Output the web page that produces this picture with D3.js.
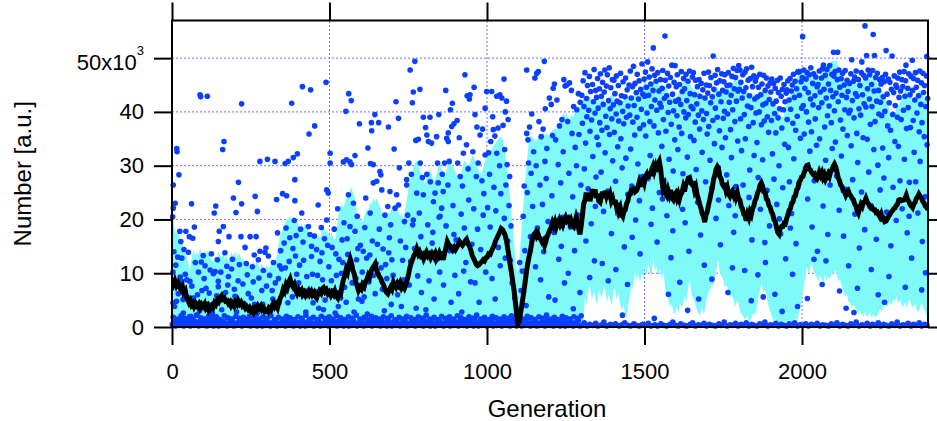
<!DOCTYPE html>
<html>
<head>
<meta charset="utf-8">
<script src="https://cdn.jsdelivr.net/npm/d3@7"></script>
<style>
  html, body { margin: 0; padding: 0; background: #fff; }
  svg { display: block; font-family: "Liberation Sans", Arial, sans-serif; }
</style>
</head>
<body>
<div id="chart"></div>
<script>
// all values in thousands (axis reads "x10^3")
const xTicks = [0, 500, 1000, 1500, 2000];
const yTicks = [0, 10, 20, 30, 40, 50];

// running mean (black trace)
const meanLine = [[0,8.8],[5,8.0],[9,8.6],[14,7.7],[19,8.2],[24,7.4],[28,7.0],[33,7.5],[37,6.4],[42,6.8],[46,5.6],[50,5.0],[54,4.5],[58,4.9],[62,4.1],[66,4.4],[70,3.8],[75,4.4],[80,3.9],[85,4.3],[89,3.6],[94,4.2],[99,3.8],
  [104,4.3],[108,3.5],[113,3.9],[117,3.1],[121,3.4],[126,3.9],[130,3.6],[135,4.5],[139,4.2],[144,5.0],[148,4.7],[153,5.5],[157,5.8],[161,5.2],[166,5.4],[170,4.8],[175,4.9],[179,4.4],[184,4.7],[188,4.0],[192,4.4],[197,3.9],
  [201,4.6],[206,4.2],[210,4.9],[215,4.3],[219,4.6],[224,3.9],[228,4.1],[233,3.5],[237,3.8],[242,3.3],[246,3.6],[251,3.0],[255,3.3],[259,2.8],[264,3.5],[268,3.2],[273,3.9],[277,3.5],[282,3.9],[286,3.2],[291,3.5],[295,2.9],[299,3.1],
  [304,2.8],[308,3.5],[313,3.2],[317,3.9],[322,4.4],[326,3.8],[330,4.2],[335,3.6],[339,4.6],[344,5.4],[348,5.9],[353,7.0],[357,6.6],[362,7.8],[366,7.3],[371,8.4],[375,8.9],[379,8.0],[384,7.5],[388,7.9],[393,6.7],[397,6.2],
  [402,6.9],[406,6.4],[411,6.8],[415,6.0],[420,6.4],[424,5.9],[428,6.3],[433,6.7],[437,6.1],[442,6.6],[446,6.0],[451,6.4],[455,5.7],[459,5.4],[464,6.2],[468,6.7],[473,6.3],[477,7.1],[481,7.3],[486,6.6],[490,6.9],[495,6.2],[499,6.5],
  [504,5.9],[508,6.4],[513,6.0],[517,6.6],[521,5.8],[526,5.4],[530,6.2],[535,6.0],[539,7.4],[544,8.8],[548,9.4],[553,10.7],[557,10.2],[561,11.6],[566,12.6],[570,11.8],[574,10.6],[579,9.8],[583,8.4],[588,7.6],[592,6.8],[597,7.4],
  [601,7.1],[605,7.9],[610,7.5],[614,8.4],[619,8.9],[623,9.6],[627,9.2],[632,10.4],[636,10.9],[641,11.3],[645,11.7],[649,10.6],[654,10.0],[658,9.4],[663,9.0],[667,8.3],[672,7.8],[676,7.0],[680,6.5],[685,6.2],[689,6.8],[694,7.4],[698,7.0],
  [703,8.3],[707,7.8],[711,7.4],[716,8.1],[720,7.7],[724,8.2],[729,7.3],[733,7.7],[738,7.2],[742,7.8],[746,8.6],[751,9.8],[755,11.0],[760,12.0],[764,12.6],[768,13.3],[773,13.8],[777,14.5],[782,13.6],[786,14.0],[791,13.2],[795,13.4],[799,12.7],
  [804,13.4],[808,13.9],[813,13.2],[817,13.5],[821,12.9],[826,13.6],[830,13.2],[835,13.7],[839,12.7],[843,13.2],[848,13.8],[852,13.1],[857,13.4],[861,12.5],[865,13.6],[870,14.8],[874,15.9],[878,15.4],[883,15.1],[887,14.6],[891,14.3],[896,14.8],[900,14.4],
  [905,14.9],[909,15.4],[913,15.9],[918,15.5],[922,15.2],[927,15.6],[931,16.0],[935,16.3],[940,15.5],[944,15.1],[949,14.2],[953,13.3],[957,12.8],[962,12.2],[966,11.6],[970,11.4],[975,11.6],[979,11.9],[983,12.1],[988,12.5],[992,12.3],[997,12.9],
  [1001,13.0],[1005,13.6],[1010,13.5],[1014,14.1],[1018,14.6],[1023,15.2],[1027,16.0],[1032,16.6],[1036,17.1],[1040,17.6],[1045,18.3],[1049,18.1],[1054,17.6],[1058,17.0],[1062,16.0],[1066,14.5],[1070,13.0],[1074,11.4],[1078,10.0],[1082,8.3],[1086,6.8],[1090,4.6],[1094,2.6],[1098,0.6],
  [1102,1.0],[1106,2.4],[1110,3.8],[1114,5.4],[1118,7.0],[1122,8.8],[1126,10.6],[1130,12.0],[1134,13.2],[1138,14.2],[1142,15.7],[1146,16.8],[1150,17.3],[1154,17.6],[1158,16.9],[1162,17.3],[1166,16.6],[1170,16.4],[1175,15.8],[1179,16.1],[1183,15.2],[1187,15.9],[1191,16.8],[1195,17.4],[1199,18.0],
  [1204,18.6],[1208,19.4],[1212,18.8],[1216,19.5],[1220,18.6],[1224,19.3],[1229,19.9],[1233,19.1],[1237,19.6],[1241,19.0],[1245,19.7],[1250,20.4],[1254,19.8],[1258,20.1],[1262,19.4],[1266,19.9],[1271,18.8],[1275,18.6],[1279,19.5],[1283,20.4],[1287,19.6],[1291,18.3],[1295,17.2],[1299,18.8],
  [1303,20.8],[1307,22.9],[1311,23.6],[1315,25.0],[1319,23.7],[1323,24.9],[1327,23.4],[1331,24.6],[1335,25.6],[1339,24.5],[1343,25.6],[1347,24.0],[1351,24.8],[1355,23.4],[1359,23.2],[1363,24.3],[1367,25.1],[1371,24.0],[1375,25.3],[1379,24.4],[1383,25.2],[1387,23.9],[1391,24.6],[1395,23.4],[1399,23.9],
  [1403,22.8],[1407,23.6],[1411,22.4],[1415,23.1],[1419,21.6],[1423,22.2],[1427,21.0],[1431,20.6],[1435,21.6],[1439,21.8],[1443,22.9],[1447,23.4],[1451,24.6],[1455,24.7],[1459,25.8],[1463,25.0],[1467,26.1],[1471,25.2],[1475,25.4],[1479,26.0],[1483,26.9],[1487,26.1],[1491,27.2],[1495,27.5],[1499,26.8],
  [1503,28.0],[1507,28.4],[1511,27.6],[1515,28.9],[1519,28.1],[1523,29.3],[1527,29.9],[1531,29.0],[1535,29.8],[1539,28.9],[1543,30.3],[1547,30.8],[1551,29.5],[1555,27.2],[1559,25.6],[1563,26.2],[1567,24.8],[1571,24.4],[1575,25.4],[1579,24.6],[1583,25.5],[1587,24.0],[1591,23.7],[1595,24.6],[1599,24.9],
  [1603,24.0],[1607,24.7],[1611,23.8],[1615,24.7],[1619,25.0],[1623,26.0],[1627,25.2],[1631,26.5],[1635,26.9],[1639,27.7],[1643,27.8],[1647,26.8],[1651,26.5],[1655,26.6],[1659,25.4],[1663,26.0],[1667,24.6],[1671,23.8],[1675,22.9],[1679,22.1],[1683,21.1],[1687,20.6],[1691,19.5],[1695,20.8],[1699,21.4],
  [1703,22.6],[1707,23.6],[1711,24.8],[1715,25.8],[1719,27.4],[1723,28.2],[1727,29.3],[1731,29.8],[1735,29.4],[1739,28.0],[1743,27.6],[1747,26.6],[1751,26.2],[1755,26.3],[1759,25.3],[1763,25.9],[1767,24.7],[1771,24.3],[1775,25.0],[1779,25.3],[1783,24.6],[1787,25.4],[1791,24.2],[1795,24.9],[1799,23.8],
  [1803,23.6],[1807,22.4],[1811,22.0],[1815,21.0],[1819,20.7],[1823,19.8],[1827,20.9],[1831,20.3],[1835,21.4],[1839,20.9],[1843,22.0],[1847,22.5],[1851,23.5],[1855,24.0],[1859,25.0],[1863,25.4],[1867,26.4],[1871,26.8],[1875,26.2],[1879,25.1],[1883,25.0],[1887,23.8],[1891,23.6],[1895,22.6],[1899,22.3],
  [1903,21.4],[1907,21.0],[1911,20.0],[1915,19.6],[1919,18.5],[1923,17.6],[1927,17.3],[1931,18.4],[1935,18.7],[1939,18.7],[1943,19.3],[1947,19.2],[1951,20.1],[1955,20.8],[1959,21.7],[1963,22.0],[1967,23.0],[1971,23.2],[1975,24.2],[1979,24.4],[1983,25.5],[1987,25.8],[1991,27.0],[1995,27.3],[1999,27.9],
  [2003,28.0],[2007,28.8],[2011,29.2],[2015,30.0],[2019,30.1],[2023,29.4],[2027,29.2],[2031,28.7],[2035,28.4],[2039,28.5],[2043,27.7],[2047,27.5],[2051,28.1],[2055,28.8],[2059,28.2],[2063,28.7],[2067,27.8],[2071,28.3],[2075,27.5],[2079,28.0],[2083,28.5],[2087,28.0],[2091,28.9],[2095,29.2],[2099,29.9],
  [2103,30.3],[2107,29.8],[2111,28.8],[2115,27.7],[2119,27.2],[2123,26.4],[2127,26.1],[2131,25.3],[2135,25.1],[2139,24.5],[2143,25.0],[2147,25.3],[2151,24.7],[2155,24.4],[2159,23.9],[2163,23.7],[2167,22.9],[2171,22.5],[2175,21.7],[2179,21.2],[2183,22.1],[2187,22.8],[2191,22.4],[2195,23.2],[2199,23.3],
  [2203,23.9],[2207,23.3],[2211,22.9],[2215,22.4],[2219,22.1],[2223,22.2],[2227,21.8],[2231,21.8],[2235,21.3],[2239,21.4],[2243,20.9],[2247,20.5],[2251,21.0],[2255,20.1],[2259,20.2],[2263,19.6],[2267,19.7],[2271,20.1],[2275,20.6],[2279,20.9],[2283,21.4],[2287,21.6],[2291,22.0],[2295,22.1],[2299,22.6],
  [2303,22.8],[2307,23.6],[2311,23.7],[2315,23.5],[2319,23.6],[2323,23.6],[2327,23.9],[2331,24.5],[2335,23.7],[2339,23.4],[2343,22.8],[2347,22.5],[2351,22.2],[2355,22.9],[2359,23.2],[2363,23.9],[2367,24.2],[2371,24.7],[2375,24.3],[2379,24.0],[2383,23.4],[2387,23.1],[2391,22.5],[2395,22.3],[2400,21.8]];

// spread band, upper edge
const bandTop = [[0,20.9],[4,20.0],[8,18.4],[12,17.2],[16,18.1],[20,18.0],[25,16.4],[30,15.6],[36,15.0],[41,13.6],[47,13.0],[52,11.8],[57,10.6],[62,12.8],[68,14.4],[73,13.2],[78,14.0],[84,13.4],[89,14.6],[94,13.8],[99,13.1],[104,14.2],[110,13.6],[115,14.4],[120,13.0],[126,12.4],[131,12.0],[136,13.2],[142,12.6],[147,14.1],[152,13.4],[157,12.8],[163,13.8],[168,12.6],[173,13.4],[178,12.2],[184,13.1],[189,14.0],[195,13.0],[200,14.1],[205,12.8],[211,13.6],[216,13.4],[221,12.2],[226,12.8],[232,11.8],[237,11.3],[242,12.0],[248,10.6],[253,11.6],[258,12.2],[264,11.4],[269,12.5],[274,11.6],[280,10.8],[285,11.8],[290,11.0],[296,10.4],[301,11.6],[306,10.8],[311,11.3],[316,12.2],[322,11.0],[327,12.4],[332,13.1],[337,14.8],[343,16.8],[348,17.6],[353,18.4],[358,19.2],[364,19.9],[369,20.2],[375,20.6],[380,19.6],[385,20.8],[390,19.8],[396,20.3],[401,19.0],[406,18.1],[411,19.4],[416,18.4],[422,19.2],[427,19.0],[432,18.0],[438,17.2],[443,16.8],[449,16.5],[454,17.4],[459,16.2],[465,17.0],[470,16.5],[475,17.8],[480,19.0],[486,17.6],[491,18.2],[496,17.4],[502,16.8],[507,17.6],[512,16.4],[518,16.2],[523,18.0],[528,20.6],[533,22.2],[539,23.0],[544,22.0],[549,23.2],[554,23.9],[559,24.6],[565,25.4],[570,26.1],[575,24.8],[581,23.9],[586,21.6],[591,19.9],[596,20.4],[602,19.6],[607,19.9],[612,21.0],[618,22.0],[623,21.4],[628,23.3],[633,22.6],[639,24.0],[644,23.2],[650,23.9],[655,23.0],[660,22.6],[666,21.0],[671,19.9],[676,20.6],[682,20.2],[687,21.4],[692,20.9],[697,22.0],[703,21.6],[708,22.8],[713,22.6],[718,21.4],[724,20.6],[729,21.2],[734,19.9],[740,21.8],[745,23.6],[750,25.5],[755,27.0],[760,28.2],[766,29.5],[771,30.4],[776,31.0],[781,30.2],[787,29.0],[792,28.5],[797,27.4],[803,26.6],[808,27.8],[813,28.6],[818,29.5],[824,28.4],[829,27.6],[834,27.0],[840,28.2],[845,29.6],[850,30.5],[856,29.4],[861,28.6],[866,28.0],[872,29.2],[877,30.6],[882,31.5],[888,30.4],[893,29.8],[898,29.0],[904,28.2],[909,28.0],[914,27.5],[920,29.0],[925,30.2],[930,31.0],[935,30.4],[941,29.5],[946,30.6],[951,31.4],[956,32.0],[962,31.0],[967,30.0],[972,29.4],[977,28.8],[983,28.5],[988,29.6],[993,30.8],[998,31.5],[1004,32.2],[1009,32.8],[1014,33.0],[1020,33.6],[1025,34.0],[1030,34.5],[1036,34.8],[1041,35.2],[1046,35.4],[1051,34.6],[1056,33.0],[1061,31.0],[1066,28.0],[1071,25.4],[1076,22.0],[1081,19.0],[1086,15.6],[1091,12.4],[1097,9.4],[1102,12.0],[1107,16.0],[1112,20.0],[1117,24.0],[1122,28.0],[1127,31.0],[1132,34.0],[1137,35.7],[1143,35.2],[1148,35.0],[1153,34.6],[1158,34.8],[1164,35.6],[1169,35.2],[1174,35.8],[1180,36.1],[1185,35.6],[1190,36.1],[1196,35.5],[1201,36.2],[1206,36.4],[1211,36.7],[1217,37.0],[1222,36.7],[1227,37.5],[1232,38.4],[1238,39.0],[1243,39.8],[1248,39.2],[1253,39.8],[1259,38.6],[1264,38.8],[1269,39.4],[1274,39.1],[1280,40.2],[1285,40.0],[1290,40.6],[1295,41.0],[1301,41.8],[1306,42.6],[1311,42.4],[1316,42.9],[1322,42.6],[1327,42.9],[1332,42.0],[1338,41.4],[1343,42.2],[1348,41.6],[1353,42.4],[1359,41.8],[1364,42.6],[1369,42.2],[1375,41.4],[1380,42.6],[1385,42.0],[1390,42.8],[1396,43.2],[1401,42.9],[1406,42.0],[1412,42.6],[1417,41.8],[1422,42.4],[1427,41.6],[1433,42.2],[1438,42.8],[1443,42.2],[1448,43.0],[1454,42.4],[1459,43.2],[1464,42.6],[1470,43.6],[1475,43.2],[1480,44.0],[1485,44.8],[1491,44.2],[1496,45.0],[1501,45.6],[1507,45.4],[1512,44.6],[1517,45.2],[1522,44.4],[1528,45.6],[1533,45.0],[1538,46.0],[1543,45.2],[1549,44.8],[1554,45.4],[1559,44.2],[1565,45.0],[1570,44.4],[1575,43.6],[1580,43.0],[1586,42.4],[1591,43.2],[1596,42.6],[1602,42.2],[1607,43.4],[1612,44.0],[1617,44.8],[1623,45.6],[1628,46.2],[1634,46.6],[1639,45.8],[1644,45.0],[1649,44.6],[1655,44.0],[1660,44.4],[1665,43.6],[1671,43.8],[1676,43.5],[1681,42.8],[1686,43.2],[1692,42.6],[1697,42.8],[1702,42.4],[1708,42.2],[1713,43.0],[1718,43.6],[1723,44.2],[1729,44.7],[1734,44.2],[1739,43.6],[1745,44.4],[1750,43.8],[1755,44.6],[1761,44.1],[1766,44.8],[1771,45.4],[1776,45.0],[1782,45.6],[1787,46.2],[1792,45.6],[1797,46.0],[1803,46.0],[1808,45.2],[1813,44.6],[1818,44.0],[1824,43.5],[1829,43.8],[1834,43.2],[1840,43.6],[1845,43.0],[1850,43.4],[1856,42.9],[1861,43.4],[1866,44.0],[1872,43.6],[1877,44.4],[1882,43.8],[1888,44.1],[1893,43.4],[1898,42.8],[1904,42.6],[1909,42.2],[1914,41.6],[1920,40.8],[1925,40.0],[1930,39.4],[1935,39.0],[1941,39.1],[1946,40.2],[1951,41.4],[1956,42.2],[1962,43.0],[1967,43.8],[1972,44.7],[1977,45.4],[1983,46.2],[1988,46.8],[1993,47.4],[1998,47.6],[2004,47.8],[2009,47.2],[2014,47.6],[2020,47.0],[2025,47.2],[2030,46.6],[2036,47.0],[2041,46.4],[2046,46.8],[2052,46.2],[2057,46.6],[2062,47.4],[2068,48.0],[2073,48.4],[2078,48.8],[2084,48.6],[2089,49.1],[2094,49.4],[2100,49.6],[2105,49.2],[2110,49.7],[2115,48.6],[2121,47.8],[2126,47.0],[2131,46.6],[2136,46.0],[2142,45.6],[2147,45.0],[2152,45.6],[2158,45.0],[2163,45.4],[2168,45.8],[2174,45.2],[2179,45.8],[2184,46.2],[2189,45.6],[2195,46.0],[2200,46.4],[2205,45.8],[2211,46.4],[2216,46.0],[2221,46.8],[2226,46.6],[2232,46.0],[2237,45.4],[2242,45.0],[2248,44.7],[2253,44.0],[2258,43.4],[2264,42.8],[2269,42.2],[2274,41.0],[2280,40.0],[2285,39.2],[2290,38.5],[2295,39.8],[2301,40.8],[2306,41.2],[2311,41.6],[2316,42.4],[2322,43.4],[2327,44.2],[2332,44.7],[2337,44.0],[2343,43.2],[2348,42.6],[2353,42.2],[2358,42.8],[2364,43.4],[2369,43.8],[2375,44.1],[2380,43.6],[2385,43.0],[2390,42.6],[2396,42.2],[2400,42.4]];

// spread band, lower edge
const bandBottom = [[0,0],[1300,0],[1306,1.5],[1311,5.7],[1316,4.2],[1322,7.0],[1327,7.5],[1333,5.0],[1338,6.6],[1343,5.7],[1350,4.0],[1355,6.8],[1359,6.3],[1365,5.2],[1370,7.4],[1375,6.9],[1381,4.6],[1386,6.0],[1390,5.4],[1396,3.8],[1401,6.6],[1406,7.2],[1412,5.0],[1417,6.2],[1422,4.5],[1428,3.0],[1433,4.2],[1438,2.6],[1444,1.8],[1449,4.4],[1454,5.7],[1459,8.0],[1464,7.0],[1470,10.6],[1475,8.6],[1480,9.8],[1486,8.2],[1491,10.2],[1496,9.0],[1502,11.3],[1507,9.6],[1512,11.8],[1517,10.6],[1522,9.2],[1528,13.1],[1533,10.4],[1538,11.2],[1544,9.4],[1549,10.8],[1555,8.8],[1560,10.6],[1565,7.6],[1570,6.0],[1576,5.1],[1581,3.6],[1586,4.4],[1591,3.2],[1596,2.2],[1602,3.6],[1608,2.8],[1613,4.5],[1619,3.4],[1624,5.0],[1629,5.7],[1634,4.6],[1639,7.4],[1644,8.8],[1650,6.0],[1655,5.4],[1660,4.5],[1666,3.2],[1671,2.6],[1676,2.0],[1682,3.8],[1687,2.4],[1692,3.2],[1697,5.0],[1703,6.4],[1708,6.9],[1713,8.0],[1718,7.6],[1724,9.4],[1729,10.8],[1734,12.5],[1739,10.2],[1744,9.6],[1750,8.8],[1755,7.4],[1760,7.8],[1766,6.9],[1771,5.4],[1776,6.0],[1782,5.1],[1787,3.6],[1792,4.8],[1798,4.5],[1803,3.0],[1808,2.4],[1814,2.0],[1820,1.2],[1826,2.2],[1830,1.4],[1835,1.0],[1840,1.8],[1845,2.6],[1850,2.2],[1856,3.2],[1861,5.6],[1866,6.8],[1872,8.2],[1877,6.4],[1882,7.0],[1888,5.7],[1893,4.0],[1898,3.0],[1904,2.0],[1910,1.0],[1916,1.6],[1922,0.6],[1930,0.7],[1938,0.4],[1946,1.0],[1954,0.6],[1962,1.3],[1970,0.8],[1978,1.6],[1984,1.2],[1988,2.0],[1994,3.6],[1999,5.2],[2004,6.9],[2009,8.8],[2015,11.3],[2020,10.0],[2026,11.0],[2031,11.9],[2036,10.6],[2041,10.0],[2046,9.4],[2052,8.4],[2057,9.6],[2062,9.0],[2068,8.2],[2073,9.8],[2078,8.6],[2084,9.4],[2089,8.8],[2094,10.4],[2100,9.4],[2105,10.6],[2110,10.0],[2115,8.4],[2120,9.0],[2126,7.6],[2131,6.9],[2136,5.6],[2142,6.2],[2147,4.8],[2152,4.5],[2158,3.6],[2163,4.2],[2168,3.8],[2173,3.2],[2179,2.4],[2184,3.0],[2190,2.4],[2195,2.0],[2200,2.8],[2206,1.8],[2211,2.2],[2216,2.6],[2222,1.6],[2227,2.4],[2232,1.8],[2237,2.0],[2243,2.6],[2248,3.4],[2253,2.8],[2258,3.8],[2264,4.6],[2269,3.6],[2274,4.2],[2279,4.8],[2284,4.0],[2290,5.2],[2295,4.8],[2300,5.7],[2305,4.4],[2311,5.0],[2316,4.2],[2321,3.8],[2327,4.6],[2332,3.4],[2337,4.8],[2343,5.1],[2348,4.0],[2353,3.6],[2359,4.4],[2364,3.2],[2369,2.8],[2375,3.8],[2380,4.5],[2385,3.6],[2391,2.8],[2396,2.0],[2400,1.6]];

// individual samples sitting on the floor
const floorDots = [[1,0.5],[6,1.1],[11,0.2],[16,0.8],[22,0.3],[27,1.3],[32,0.6],[37,0.2],[43,0.9],[48,0.4],[53,1.2],[58,0.2],[64,0.7],[69,0.3],[74,1.0],[80,0.5],[85,0.2],[90,1.2],[95,0.6],[101,0.3],[106,0.9],[111,0.2],[117,1.1],[122,0.4],[127,0.8],[132,0.2],[138,1.3],[143,0.5],[148,0.2],[154,0.9],[159,0.3],[164,1.1],[169,0.6],[175,0.2],[180,0.8],[185,0.4],[191,1.2],[196,0.2],[201,0.7],[206,0.3],[212,1.0],[217,0.5],[222,0.2],[228,1.2],[233,0.6],[238,0.3],[243,0.9],[249,0.2],[254,1.1],[259,0.4],[265,0.8],[270,0.2],[275,1.3],[280,0.5],[286,0.2],[291,0.9],[296,0.3],[302,1.1],[307,0.6],[312,0.2],[317,0.8],[323,0.4],[328,1.2],[333,0.2],[339,0.7],[344,0.3],[349,1.0],[354,0.5],[360,0.2],[365,1.2],[370,0.6],[376,0.3],[381,0.9],[386,0.2],[391,1.1],[397,0.4],[402,0.8],[407,0.2],[413,1.3],[418,0.5],[423,0.2],[428,0.9],[434,0.3],[439,1.1],[444,0.6],[450,0.2],[455,0.8],[460,0.4],[465,1.2],[471,0.2],[476,0.7],[481,0.3],[487,1.0],[492,0.5],[497,0.2],[502,1.2],[508,0.6],[513,0.3],[518,0.9],[524,0.2],[529,1.1],[534,0.4],[539,0.8],[545,0.2],[550,1.3],[555,0.5],[561,0.2],[566,0.9],[571,0.3],[576,1.1],[582,0.6],[587,0.2],[592,0.8],[598,0.4],[603,1.2],[608,0.2],[613,0.7],[619,0.3],[624,1.0],[629,0.5],[635,0.2],[640,1.2],[645,0.6],[650,0.3],[656,0.9],[661,0.2],[666,1.1],[672,0.4],[677,0.8],[682,0.2],[687,1.3],[693,0.5],[698,0.2],[703,0.9],[709,0.3],[714,1.1],[719,0.6],[724,0.2],[730,0.8],[735,0.4],[740,1.2],[746,0.2],[751,0.7],[756,0.3],[761,1.0],[767,0.5],[772,0.2],[777,1.2],[783,0.6],[788,0.3],[793,0.9],[798,0.2],[804,1.1],[809,0.4],[814,0.8],[820,0.2],[825,1.3],[830,0.5],[835,0.2],[841,0.9],[846,0.3],[851,1.1],[857,0.6],[862,0.2],[867,0.8],[872,0.4],[878,1.2],[883,0.2],[888,0.7],[894,0.3],[899,1.0],[904,0.5],[909,0.2],[915,1.2],[920,0.6],[925,0.3],[931,0.9],[936,0.2],[941,1.1],[946,0.4],[952,0.8],[957,0.2],[962,1.3],[968,0.5],[973,0.2],[978,0.9],[983,0.3],[989,1.1],[994,0.6],[999,0.2],[1005,0.8],[1010,0.4],[1015,1.2],[1020,0.2],[1026,0.7],[1031,0.3],[1036,1.0],[1042,0.5],[1047,0.2],[1052,1.2],[1057,0.6],[1063,0.3],[1068,0.9],[1073,0.2],[1079,1.1],[1084,0.4],[1089,0.8],[1094,0.2],[1100,1.3],[1105,0.5],[1110,0.2],[1116,0.9],[1121,0.3],[1126,1.1],[1131,0.6],[1137,0.2],[1142,0.8],[1147,0.4],[1153,1.2],[1158,0.2],[1163,0.7],[1168,0.3],[1174,1.0],[1179,0.5],[1184,0.2],[1190,1.2],[1195,0.6],[1200,0.3],[1205,0.9],[1211,0.2],[1216,1.1],[1221,0.4],[1227,0.8],[1232,0.2],[1237,1.3],[1242,0.5],[1248,0.2],[1253,0.9],[1258,0.3],[1264,1.1],[1269,0.6],[1274,0.2],[1279,0.8],[1285,0.4],[1290,1.2],[1295,0.2],
  [1302,0.3],[1309,0.8],[1318,0.2],[1326,0.5],[1334,0.3],[1345,0.7],[1352,0.2],[1363,0.4],[1371,0.9],[1380,0.2],[1392,0.5],[1399,0.3],[1408,0.6],[1420,0.2],[1428,0.4],[1437,0.8],[1448,0.3],[1456,0.2],[1466,0.6],[1474,0.3],[1483,0.2],[1494,0.5],[1503,0.3],[1512,0.7],[1521,0.2],[1533,0.4],[1541,0.2],[1552,0.6],[1561,0.3],[1570,0.2],[1581,0.5],[1590,0.9],[1598,0.3],[1607,0.2],[1615,0.6],[1626,0.3],[1634,0.2],[1645,0.5],[1653,0.8],[1662,0.2],[1671,0.4],[1680,0.3],[1689,0.7],[1697,0.2],[1706,0.5],[1716,0.3],[1725,0.2],[1736,0.6],[1744,0.3],[1753,0.9],[1762,0.2],[1772,0.4],[1780,0.3],[1789,0.7],[1797,0.2],[1806,0.5],[1815,0.3],[1823,0.8],[1831,0.2],[1840,0.5],[1848,0.3],[1857,0.2],[1866,0.6],[1874,0.3],[1882,0.9],[1891,0.2],[1900,0.4],[1909,0.3],[1917,0.7],[1925,0.2],[1934,0.5],[1943,0.3],[1951,0.2],[1960,0.6],[1968,0.3],[1977,0.8],[1986,0.2],[1994,0.4],[2003,0.3],[2012,0.6],[2021,0.2],[2030,0.5],[2039,0.3],[2048,0.7],[2057,0.2],[2066,0.4],[2075,0.3],[2084,0.2],[2093,0.6],[2102,0.3],[2111,0.8],[2120,0.2],[2129,0.5],[2138,0.3],[2146,0.2],[2155,0.6],[2164,0.3],[2172,0.9],[2181,0.2],[2190,0.4],[2199,0.3],[2207,0.7],[2216,0.2],[2224,0.5],[2233,0.3],[2242,0.8],[2250,0.2],[2259,0.5],[2268,0.3],[2276,0.2],[2285,0.6],[2294,0.3],[2302,0.9],[2311,0.2],[2320,0.4],[2328,0.3],[2337,0.7],[2346,0.2],[2354,0.5],[2363,0.3],[2372,0.8],[2380,0.2],[2389,0.5],[2397,0.3]];

// second layer of near-zero samples, generation 0-1300
const floorDotsUpper = [[4,1.8],[17,1.5],[29,2.1],[41,1.6],[55,1.9],[67,1.4],[79,2.2],[92,1.7],[104,1.5],[116,2.0],[129,1.6],[141,1.9],[152,1.4],[166,2.1],[178,1.7],[190,1.5],[203,2.0],[215,1.6],[227,1.8],[240,1.4],[252,2.2],[264,1.7],[277,1.5],[289,1.9],[301,1.6],[314,2.1],[326,1.4],[338,1.8],[351,1.5],[363,2.0],[375,1.7],[388,1.4],[400,1.9],[412,1.6],[425,2.2],[437,1.5],[449,1.8],[462,1.4],[474,2.0],[486,1.6],[499,1.9],[511,1.5],[523,2.1],[536,1.7],[548,1.4],[560,1.9],[573,1.6],[585,2.2],[597,1.5],[610,1.8],[622,1.4],[634,2.0],[647,1.7],[659,1.5],[671,1.9],[684,1.6],[696,2.1],[708,1.4],[721,1.8],[733,1.5],[745,2.0],[758,1.7],[770,1.4],[782,1.9],[795,1.6],[807,2.2],[819,1.5],[832,1.8],[844,1.4],[856,2.0],[869,1.6],[881,1.9],[893,1.5],[906,2.1],[918,1.7],[930,1.4],[943,1.9],[955,1.6],[967,2.2],[980,1.5],[992,1.8],[1004,1.4],[1017,2.0],[1029,1.7],[1041,1.5],[1054,1.9],[1066,1.6],[1078,2.1],[1091,1.4],[1103,1.8],[1115,1.5],[1128,2.0],[1140,1.7],[1152,1.4],[1165,1.9],[1177,1.6],[1189,2.2],[1202,1.5],[1214,1.8],[1226,1.4],[1239,2.0],[1251,1.7],[1263,1.5],[1276,1.9],[1288,1.6],[1299,2.1]];

// individual samples, generation 0-700
const dotsEarly = [[4,26.4],[22,28.3],[10,23.0],[4,22.1],[2,20.5],[15,33.2],[16,32.6],[25,17.8],[28,15.9],[38,14.4],[31,12.8],[44,17.8],[3,4.5],[8,3.8],[14,4.8],[31,8.5],[47,8.8],[20,6.2],[36,2.6],[42,9.8],[12,11.5],[48,5.6],[6,14.0],
  [55,16.8],[66,16.5],[71,18.6],[62,22.9],[57,8.5],[89,43.2],[91,42.8],[99,13.3],[68,5.4],[78,2.2],[84,10.2],[95,6.8],[74,12.0],[88,3.0],[60,2.0],
  [112,42.9],[105,11.4],[121,10.6],[134,21.2],[139,22.5],[147,15.9],[137,10.3],[147,8.5],[147,7.5],[115,4.2],[128,2.5],[142,5.8],[108,7.2],[125,13.6],
  [150,17.8],[161,33.0],[165,34.5],[163,18.7],[181,16.8],[168,13.8],[174,11.3],[179,9.4],[195,24.0],[158,3.2],[170,6.4],[186,4.0],[192,12.6],[198,7.0],[155,10.2],
  [221,41.5],[203,21.3],[211,26.9],[221,22.9],[219,16.8],[248,16.8],[210,8.6],[228,4.4],[236,11.8],[242,6.2],[205,2.8],[232,14.8],[246,2.0],
  [279,30.8],[267,16.8],[271,21.5],[264,24.3],[279,14.1],[274,12.5],[298,14.7],[295,13.9],[258,8.4],[262,4.2],[285,6.8],[290,10.5],[270,2.5],[255,11.2],
  [303,31.2],[327,30.8],[332,23.7],[310,9.6],[318,6.8],[322,12.0],[340,4.5],[345,14.2],[335,17.5],[312,2.8],[328,8.2],[348,10.8],
  [359,30.4],[369,30.8],[380,41.6],[385,31.5],[398,32.2],[351,24.8],[364,24.4],[390,23.5],[390,27.4],[356,15.6],[362,18.4],[372,12.2],[378,8.0],[394,17.0],[368,4.5],[384,14.6],[396,9.8],[355,6.4],[388,19.8],
  [414,44.7],[440,44.1],[435,35.9],[412,21.2],[433,18.7],[438,17.2],[443,15.0],[443,13.1],[405,11.5],[420,6.8],[428,9.4],[448,4.5],[416,15.8],[425,2.8],[408,18.2],
  [453,37.4],[489,45.5],[459,14.4],[470,12.2],[464,22.7],[491,25.5],[496,24.9],[491,19.9],[478,8.8],[484,16.4],[455,6.6],[466,3.5],[498,11.2],[474,18.5],[486,5.0],
  [502,32.3],[502,30.5],[544,30.7],[552,40.1],[508,14.8],[515,18.2],[522,9.6],[530,12.6],[535,5.4],[512,6.8],[540,16.2],[526,22.0],[546,19.4],[518,2.6],[538,10.0],
  [554,31.1],[565,30.7],[570,30.2],[581,31.9],[561,43.4],[569,42.1],[595,37.8],[560,24.6],[581,17.8],[565,18.7],[576,23.0],[558,13.5],[572,8.2],[586,12.5],[592,5.2],[553,4.6],[598,15.2],[578,2.8],[588,20.6],
  [622,33.3],[633,38.0],[634,36.5],[644,39.5],[630,30.4],[639,30.2],[607,14.1],[618,12.8],[629,21.2],[639,26.8],[650,27.1],[612,18.5],[625,8.4],[636,16.0],[645,6.2],[603,4.8],[648,11.8],[615,24.0],[620,2.4],
  [656,38.0],[687,37.2],[666,25.5],[692,25.2],[660,28.9],[663,28.3],[658,18.2],[670,14.5],[676,20.8],[682,9.0],[690,16.6],[696,4.2],[664,11.0],[674,3.0],[698,12.5],[685,22.4],
  [3,10.2],[18,13.0],[26,9.3],[35,5.1],[52,13.9],[63,7.6],[81,6.0],[93,12.1],[102,9.0],[118,6.3],[131,9.9],[144,12.5],[152,5.0],[177,7.8],[189,10.8],[200,5.7],[214,11.6],[225,8.0],[239,9.7],[252,5.4],[261,13.4],[276,9.1],[288,4.2],[300,7.6],[306,13.2],[320,5.2],[338,9.0],[342,11.4],[360,11.0],[374,16.6],[382,5.6],[392,13.2],[402,8.2],[418,12.4],[430,5.8],[446,9.8],[452,16.9],[462,9.6],[476,13.8],[481,3.2],[494,15.2],[506,8.6],[520,13.6],[528,3.8],[542,12.0],[548,7.4],[556,16.4],[567,11.0],[584,9.0],[590,14.6],[604,10.2],[610,5.6],[628,13.4],[640,9.6],[652,15.4],[668,7.0],[678,11.6],[688,13.8],[694,19.0]];

// individual samples, generation 700-1300
const dotsMid = [[705,33.1],[711,41.9],[719,38.8],[713,24.6],[708,22.1],[719,22.7],[745,27.4],[745,26.4],[725,16.0],[732,12.4],[738,19.6],[702,9.6],[716,6.0],[728,3.8],[742,14.8],[735,8.8],[748,20.8],[722,29.6],
  [756,47.8],[771,49.4],[787,44.2],[766,43.7],[763,41.7],[766,19.9],[764,19.0],[777,24.9],[798,24.6],[774,34.7],[782,34.9],[798,39.0],[752,30.5],[760,28.4],[770,14.6],[780,9.5],[790,16.8],[795,27.8],[758,12.2],[785,21.2],[792,6.4],[775,3.5],[753,7.8],[788,30.5],
  [805,37.1],[809,35.7],[814,34.5],[824,34.2],[819,39.0],[840,35.4],[847,39.5],[830,23.3],[835,24.9],[809,28.4],[820,27.0],[843,30.5],[812,19.0],[826,15.6],[838,12.4],[848,20.4],[816,8.6],[832,5.2],[802,13.8],[845,26.8],[828,17.6],[806,3.2],[850,10.2],
  [869,44.0],[890,41.6],[884,40.4],[888,37.3],[895,37.8],[877,36.1],[872,35.1],[877,34.5],[861,25.2],[856,22.1],[851,20.6],[865,30.5],[880,30.8],[858,28.4],[870,18.8],[882,14.2],[892,22.6],[898,9.6],[862,7.8],[876,26.4],[886,4.6],[895,17.2],[854,13.6],
  [930,46.9],[937,43.0],[946,43.2],[944,42.4],[935,33.9],[925,32.3],[907,30.5],[915,28.0],[922,26.2],[905,38.4],[912,35.2],[940,29.4],[918,21.0],[928,18.4],[942,23.6],[902,16.2],[933,12.0],[948,8.4],[910,6.2],[920,2.8],[938,15.6],[926,10.4],
  [959,44.6],[962,39.5],[994,40.7],[999,43.8],[978,35.7],[955,32.6],[972,30.5],[994,32.0],[966,28.0],[984,27.2],[990,24.8],[958,22.0],[970,18.2],[980,14.4],[988,20.8],[996,10.2],[962,8.2],[975,4.6],[952,15.4],[986,36.8],[968,37.2],
  [1015,43.8],[1012,34.5],[1018,39.1],[1020,36.7],[1031,42.9],[1041,43.2],[1047,42.6],[1031,32.3],[1005,32.4],[1025,35.5],[1035,37.0],[1008,28.4],[1022,26.0],[1040,30.0],[1028,21.6],[1044,24.8],[1010,18.6],[1036,14.8],[1002,22.2],[1016,9.0],[1048,18.0],[1026,5.2],[1042,11.4],
  [1054,46.1],[1051,37.5],[1058,40.0],[1062,42.0],[1067,38.6],[1056,33.0],[1064,30.2],[1060,26.4],[1070,22.6],[1055,20.2],[1066,16.0],[1074,12.4],[1080,8.2],[1088,5.4],[1095,3.2],[1072,28.0],[1058,12.8],[1085,1.8],[1076,18.8],
  [1126,47.8],[1126,36.0],[1130,34.8],[1135,37.2],[1132,30.5],[1128,25.0],[1140,28.6],[1115,20.6],[1120,14.2],[1108,6.8],[1145,22.4],[1138,16.8],[1112,10.4],[1148,32.6],[1142,39.6],[1124,4.0],[1118,26.2],[1104,12.0],
  [1152,46.3],[1158,47.2],[1163,47.5],[1182,49.4],[1165,38.2],[1172,35.4],[1178,36.8],[1185,40.6],[1190,33.2],[1156,30.0],[1168,26.4],[1176,22.8],[1188,27.6],[1160,18.4],[1180,14.0],[1194,19.6],[1170,8.8],[1196,5.6],[1154,11.2],[1184,30.8],[1198,42.6],
  [1204,41.4],[1210,44.4],[1214,45.2],[1222,42.2],[1230,37.4],[1238,38.6],[1244,46.0],[1248,44.8],[1218,34.8],[1226,30.2],[1234,26.8],[1242,32.6],[1206,24.4],[1212,17.6],[1228,12.6],[1240,20.4],[1246,8.2],[1216,5.0],[1236,15.0],[1208,35.6],
  [1253,45.0],[1262,45.4],[1268,44.0],[1275,41.0],[1285,40.4],[1290,43.4],[1296,41.8],[1256,38.2],[1270,36.0],[1280,33.4],[1292,35.8],[1260,28.6],[1272,24.2],[1284,30.0],[1298,26.4],[1265,18.6],[1278,14.2],[1288,20.8],[1258,10.0],[1295,6.4],[1274,3.4]];

// individual samples, generation 1300-2400
const dotsLate = [[1301,43.1],[1303,37.9],[1305,45.8],[1308,41.0],[1309,29.4],[1311,47.3],[1313,34.2],[1316,42.5],[1317,39.1],[1319,44.9],[1321,25.7],[1323,40.3],[1325,46.6],[1327,36.4],[1329,43.8],[1331,19.2],[1332,38.5],[1335,45.1],[1336,31.7],[1338,41.9],[1340,47.9],[1341,12.3],[1343,39.8],[1345,44.0],[1346,27.9],[1348,42.7],[1349,35.3],[1344,22.4],[1314,16.0],[1326,9.2],
  [1351,46.2],[1353,40.7],[1354,33.9],[1357,44.3],[1358,38.0],[1360,47.1],[1362,28.8],[1363,42.9],[1365,36.6],[1367,45.5],[1369,41.4],[1370,21.5],[1372,43.7],[1374,47.8],[1375,32.4],[1377,39.2],[1379,44.8],[1381,37.1],[1382,46.9],[1384,25.3],[1386,42.1],[1388,48.2],[1389,35.8],[1391,40.6],[1393,44.5],[1395,17.4],[1396,38.7],[1398,46.0],[1399,30.9],[1366,11.8],[1385,8.6],
  [1401,41.3],[1403,45.9],[1404,36.2],[1406,43.4],[1408,27.1],[1410,39.6],[1411,46.7],[1413,42.0],[1415,33.5],[1417,44.9],[1418,38.3],[1420,20.8],[1422,41.7],[1424,47.2],[1425,35.0],[1427,43.0],[1429,29.6],[1431,40.1],[1432,45.6],[1434,37.8],[1436,14.9],[1438,42.8],[1440,46.3],[1441,31.4],[1443,39.0],[1445,44.1],[1447,24.7],[1448,41.1],[1409,10.7],[1430,2.2],[1446,7.9],
  [1451,45.0],[1453,39.4],[1455,47.6],[1456,33.1],[1458,42.6],[1460,26.2],[1462,44.7],[1463,38.1],[1465,48.5],[1467,41.2],[1469,35.7],[1470,45.3],[1472,19.9],[1474,43.6],[1476,39.0],[1477,47.0],[1479,30.3],[1481,42.4],[1483,45.8],[1485,36.9],[1486,13.6],[1488,44.2],[1490,40.5],[1492,48.9],[1493,28.0],[1495,43.3],[1497,37.6],[1499,46.1],[1461,16.7],[1484,23.5],
  [1501,42.9],[1503,47.4],[1504,35.5],[1506,44.6],[1508,39.8],[1510,49.3],[1511,27.6],[1513,43.1],[1515,46.5],[1517,38.2],[1518,31.9],[1520,45.2],[1522,41.0],[1524,48.0],[1525,22.1],[1527,44.0],[1528,51.9],[1530,37.4],[1532,46.8],[1533,42.2],[1535,29.9],[1537,45.7],[1539,40.3],[1540,15.8],[1542,47.3],[1544,36.1],[1546,43.9],[1547,25.0],[1549,41.6],[1531,1.6],[1521,19.1],
  [1551,46.0],[1553,40.9],[1555,33.6],[1556,44.4],[1558,47.7],[1560,38.6],[1561,27.3],[1563,42.5],[1565,54.1],[1566,45.9],[1568,36.4],[1570,43.0],[1571,20.7],[1573,47.2],[1575,39.9],[1577,44.8],[1578,31.2],[1580,41.8],[1582,46.4],[1584,12.9],[1585,37.7],[1587,48.7],[1589,43.3],[1591,29.0],[1592,40.2],[1594,45.5],[1596,34.8],[1597,48.6],[1599,42.0],[1576,6.1],[1590,17.9],[1557,23.8],
  [1601,44.7],[1603,39.3],[1604,46.9],[1606,33.0],[1608,42.3],[1610,37.2],[1611,45.1],[1613,24.6],[1615,41.4],[1617,47.5],[1618,36.0],[1620,43.8],[1622,28.5],[1624,46.2],[1625,40.0],[1627,44.3],[1629,19.4],[1631,38.9],[1632,47.0],[1634,42.1],[1636,31.6],[1638,45.7],[1639,39.5],[1641,14.1],[1643,47.6],[1645,43.4],[1646,35.4],[1648,41.0],[1650,26.8],[1612,8.3],[1637,3.1],[1621,21.9],
  [1652,46.5],[1654,40.6],[1655,47.3],[1657,34.7],[1659,43.2],[1661,38.1],[1662,45.9],[1664,29.3],[1666,41.5],[1668,44.7],[1669,23.2],[1671,39.4],[1673,46.0],[1675,36.8],[1676,42.9],[1678,17.1],[1680,45.3],[1682,40.2],[1683,32.5],[1685,44.1],[1687,38.6],[1689,47.2],[1690,11.5],[1692,42.6],[1694,27.0],[1696,45.0],[1697,39.7],[1699,35.9],[1672,5.2],[1693,20.5],
  [1701,43.5],[1703,47.4],[1704,37.3],[1706,44.9],[1708,31.0],[1710,41.7],[1711,46.4],[1713,25.8],[1715,42.8],[1717,38.4],[1718,50.4],[1720,44.2],[1722,34.1],[1724,46.8],[1725,40.7],[1727,20.2],[1729,45.4],[1731,39.0],[1732,47.9],[1734,29.7],[1736,43.3],[1738,36.5],[1739,45.8],[1741,15.3],[1743,41.9],[1745,47.1],[1746,33.4],[1748,44.0],[1750,38.8],[1714,8.9],[1735,23.6],
  [1752,45.6],[1754,40.1],[1755,46.9],[1757,35.2],[1759,43.7],[1761,28.3],[1762,44.9],[1764,39.6],[1766,47.3],[1768,22.6],[1769,41.8],[1771,45.0],[1773,36.7],[1775,43.1],[1776,31.5],[1778,46.6],[1780,40.4],[1782,48.1],[1783,17.6],[1785,44.3],[1787,38.2],[1789,46.4],[1790,26.1],[1792,42.0],[1794,47.7],[1796,34.6],[1797,43.9],[1799,48.6],[1779,11.0],[1765,6.4],[1788,20.7],
  [1801,44.2],[1803,47.8],[1805,38.7],[1806,45.5],[1808,32.8],[1810,42.6],[1812,46.9],[1813,26.4],[1815,43.8],[1817,39.5],[1819,47.4],[1820,35.0],[1822,44.5],[1824,48.0],[1826,21.3],[1827,41.1],[1829,45.9],[1831,37.3],[1833,43.0],[1834,29.2],[1836,46.2],[1838,40.8],[1840,48.3],[1841,16.2],[1843,44.7],[1845,38.0],[1847,46.7],[1848,31.9],[1850,42.4],[1818,10.5],[1839,4.9],[1832,24.1],
  [1852,45.7],[1854,39.8],[1855,46.4],[1857,34.3],[1859,42.8],[1861,27.8],[1862,44.6],[1864,40.0],[1866,47.0],[1868,21.9],[1869,43.2],[1871,37.6],[1873,45.2],[1875,31.1],[1876,41.3],[1878,46.8],[1880,38.3],[1882,15.7],[1883,44.0],[1885,41.6],[1887,46.3],[1889,25.4],[1890,39.1],[1892,44.8],[1894,36.2],[1896,42.3],[1897,18.8],[1899,45.4],[1860,9.7],[1884,12.0],[1877,5.6],
  [1901,43.7],[1903,38.4],[1904,46.1],[1906,32.2],[1908,41.5],[1910,45.3],[1911,27.5],[1913,39.7],[1915,44.4],[1917,36.1],[1918,42.0],[1920,22.8],[1922,45.9],[1924,38.9],[1925,43.6],[1927,30.0],[1929,40.6],[1931,46.3],[1932,17.3],[1934,42.9],[1936,37.0],[1938,44.2],[1939,25.9],[1941,40.4],[1943,45.1],[1945,34.0],[1946,41.9],[1948,12.7],[1950,43.5],[1914,6.1],[1937,2.9],[1928,20.1],
  [1952,44.1],[1953,38.6],[1955,45.8],[1957,33.4],[1959,42.2],[1960,27.0],[1962,46.2],[1964,40.5],[1966,43.9],[1967,21.1],[1969,45.0],[1971,37.9],[1973,47.0],[1974,31.3],[1976,42.7],[1978,45.7],[1980,36.6],[1981,15.5],[1983,44.3],[1985,39.2],[1987,47.4],[1988,47.5],[1990,26.6],[1992,43.1],[1993,47.5],[1995,35.1],[1997,45.6],[1999,40.7],[1970,9.8],[1986,3.8],[1963,18.4],
  [2001,46.4],[2002,54.0],[2004,41.2],[2006,47.8],[2007,35.9],[2009,44.4],[2011,29.5],[2013,46.1],[2014,40.0],[2016,47.3],[2018,23.8],[2020,43.6],[2021,38.1],[2023,46.9],[2025,32.7],[2027,42.4],[2028,48.2],[2030,36.3],[2032,18.6],[2034,45.3],[2035,41.3],[2037,47.1],[2039,27.2],[2041,43.0],[2042,38.7],[2044,46.5],[2046,33.8],[2048,44.7],[2049,14.1],[2017,5.3],[2038,12.6],
  [2051,45.1],[2053,40.8],[2055,47.6],[2056,35.0],[2058,43.7],[2060,28.6],[2062,46.3],[2063,41.7],[2065,48.0],[2067,22.5],[2068,48.7],[2070,44.2],[2072,37.2],[2074,46.8],[2075,31.0],[2077,42.6],[2079,47.9],[2081,39.3],[2082,17.2],[2084,45.2],[2086,41.1],[2088,48.6],[2089,26.4],[2091,44.0],[2093,38.0],[2095,47.0],[2096,33.2],[2098,42.8],[2100,51.1],[2076,12.3],[2064,7.9],
  [2101,46.7],[2103,40.2],[2105,47.5],[2106,34.4],[2108,43.5],[2110,28.1],[2112,46.0],[2113,51.1],[2115,41.9],[2117,47.8],[2118,21.7],[2120,44.6],[2122,38.5],[2124,46.2],[2125,31.8],[2127,43.1],[2129,47.2],[2130,36.8],[2132,16.9],[2134,45.0],[2136,40.4],[2137,47.7],[2139,25.6],[2141,42.7],[2143,45.9],[2144,35.6],[2146,43.8],[2148,11.4],[2149,39.8],[2119,6.7],[2140,3.5],
  [2151,45.3],[2153,40.3],[2155,47.1],[2156,33.7],[2158,49.7],[2160,42.1],[2161,27.4],[2163,45.7],[2165,38.9],[2167,46.5],[2168,21.0],[2170,43.4],[2172,47.6],[2174,36.0],[2175,42.9],[2177,30.6],[2179,46.0],[2181,40.6],[2182,14.7],[2184,44.9],[2186,39.4],[2188,47.3],[2189,25.1],[2190,49.3],[2192,43.2],[2194,35.2],[2196,46.8],[2197,41.5],[2199,18.1],[2176,7.2],[2165,2.7],
  [2200,56.0],[2202,46.3],[2203,40.9],[2205,50.5],[2207,34.9],[2208,44.3],[2210,47.8],[2212,28.8],[2214,42.4],[2215,46.9],[2217,37.7],[2219,22.6],[2221,45.1],[2222,41.0],[2224,47.7],[2226,54.4],[2228,33.0],[2229,43.9],[2230,50.5],[2232,38.2],[2234,46.4],[2236,16.3],[2237,42.0],[2239,47.2],[2241,30.1],[2243,44.0],[2244,39.6],[2246,46.0],[2248,25.5],[2249,41.8],[2220,10.7],[2242,6.0],
  [2251,45.2],[2253,39.3],[2255,46.4],[2256,33.3],[2258,42.8],[2260,27.7],[2261,45.6],[2263,40.1],[2265,47.0],[2267,51.4],[2268,21.4],[2270,43.3],[2272,37.4],[2274,46.1],[2275,31.5],[2277,41.7],[2279,45.5],[2281,36.6],[2282,15.1],[2284,44.2],[2286,50.4],[2288,39.5],[2289,26.0],[2291,43.6],[2293,46.7],[2295,34.5],[2296,41.2],[2298,45.0],[2299,19.8],[2276,9.4],[2262,4.6],
  [2301,44.6],[2303,39.0],[2304,46.3],[2306,33.6],[2308,42.7],[2310,47.4],[2311,27.2],[2313,43.9],[2315,38.6],[2317,46.0],[2318,22.0],[2320,44.7],[2322,40.3],[2324,47.5],[2325,31.2],[2327,42.9],[2329,45.8],[2330,48.7],[2332,36.9],[2334,17.5],[2336,44.4],[2337,40.8],[2339,47.1],[2341,26.9],[2343,43.2],[2344,37.1],[2346,46.6],[2348,12.8],[2350,49.6],[2328,7.4],[2340,20.6],
  [2351,44.0],[2353,38.4],[2354,46.2],[2356,32.5],[2358,42.2],[2360,47.3],[2361,27.0],[2363,44.6],[2365,39.8],[2367,45.9],[2368,21.2],[2370,43.0],[2372,36.3],[2374,47.6],[2375,30.8],[2377,41.4],[2379,45.4],[2381,38.0],[2382,15.9],[2384,47.2],[2386,43.6],[2388,35.4],[2389,44.9],[2391,24.2],[2393,41.0],[2395,46.7],[2396,50.3],[2397,33.9],[2399,42.5],[2380,6.9],[2392,10.1]];

const W = 937, H = 421;
const margin = {top: 20.5, right: 9, bottom: 94, left: 172};
const plotW = W - margin.left - margin.right;
const plotH = H - margin.top - margin.bottom;

const svg = d3.select("#chart").append("svg")
    .attr("width", W)
    .attr("height", H);

const x = d3.scaleLinear().domain([0, 2400]).range([margin.left, margin.left + plotW]);
const y = d3.scaleLinear().domain([0, 57]).range([margin.top + plotH, margin.top]);

svg.append("clipPath").attr("id", "plotclip")
    .append("rect")
    .attr("x", margin.left).attr("y", margin.top)
    .attr("width", plotW).attr("height", plotH);

// dotted grid
const grid = svg.append("g").attr("stroke", "#6f6fff").attr("stroke-width", 1).attr("stroke-dasharray", "2,2");
grid.selectAll("line.gx")
    .data(xTicks.filter(d => d > 0))
    .join("line")
    .attr("x1", d => x(d)).attr("x2", d => x(d))
    .attr("y1", y(0)).attr("y2", margin.top);
grid.selectAll("line.gy")
    .data(yTicks.filter(d => d > 0))
    .join("line")
    .attr("x1", margin.left).attr("x2", margin.left + plotW)
    .attr("y1", d => y(d)).attr("y2", d => y(d));

// cyan band
const edge = d3.line().x(d => x(d[0])).y(d => y(d[1]));
svg.append("path")
    .attr("clip-path", "url(#plotclip)")
    .attr("d", edge(bandTop.concat(bandBottom.slice().reverse())) + "Z")
    .attr("fill", "#80f9f9")
    .attr("stroke", "none");

// samples
const allDots = floorDots.concat(floorDotsUpper, dotsEarly, dotsMid, dotsLate);
svg.append("g")
    .selectAll("circle")
    .data(allDots)
    .join("circle")
    .attr("cx", d => x(d[0]))
    .attr("cy", d => y(d[1]))
    .attr("r", 2.8)
    .attr("fill", "#0a40ff");

// running mean
svg.append("path")
    .attr("clip-path", "url(#plotclip)")
    .attr("d", edge(meanLine))
    .attr("fill", "none")
    .attr("stroke", "#000")
    .attr("stroke-width", 5)
    .attr("stroke-linejoin", "miter");

// axes
function styleAxis(g) {
    g.select(".domain").remove();
    g.attr("font-size", 22).attr("font-family", null);
    g.selectAll(".tick line").attr("stroke", "#000").attr("stroke-width", 2);
    g.selectAll(".tick text").attr("fill", "#000");
}

svg.append("g")
    .attr("transform", `translate(0,${y(0)})`)
    .call(d3.axisBottom(x).tickValues(xTicks).tickSize(18).tickPadding(18).tickFormat(d3.format("d")))
    .call(styleAxis);

svg.append("g")
    .attr("transform", `translate(0,${margin.top})`)
    .call(d3.axisTop(x).tickValues(xTicks).tickSize(18).tickFormat(""))
    .call(styleAxis);

const yAxisG = svg.append("g")
    .attr("transform", `translate(${margin.left},0)`)
    .call(d3.axisLeft(y).tickValues(yTicks).tickSize(18).tickPadding(10).tickFormat(d => d))
    .call(styleAxis);

// top label carries the exponent
yAxisG.selectAll(".tick text")
    .filter(d => d === 50)
    .text("50x10")
    .attr("dy", "0.53em")
    .append("tspan")
    .attr("dy", -15)
    .attr("font-size", 13)
    .text("3");

svg.append("g")
    .attr("transform", `translate(${margin.left + plotW},0)`)
    .call(d3.axisRight(y).tickValues(yTicks).tickSize(18).tickFormat(""))
    .call(styleAxis);

// frame
svg.append("rect")
    .attr("x", margin.left).attr("y", margin.top)
    .attr("width", plotW).attr("height", plotH)
    .attr("fill", "none")
    .attr("stroke", "#000")
    .attr("stroke-width", 2);

// titles
svg.append("text")
    .attr("x", 547).attr("y", 417)
    .attr("text-anchor", "middle")
    .attr("font-size", 24)
    .text("Generation");

svg.append("text")
    .attr("transform", `translate(31,${margin.top + plotH / 2}) rotate(-90)`)
    .attr("text-anchor", "middle")
    .attr("font-size", 24)
    .text("Number [a.u.]");
</script>
</body>
</html>
